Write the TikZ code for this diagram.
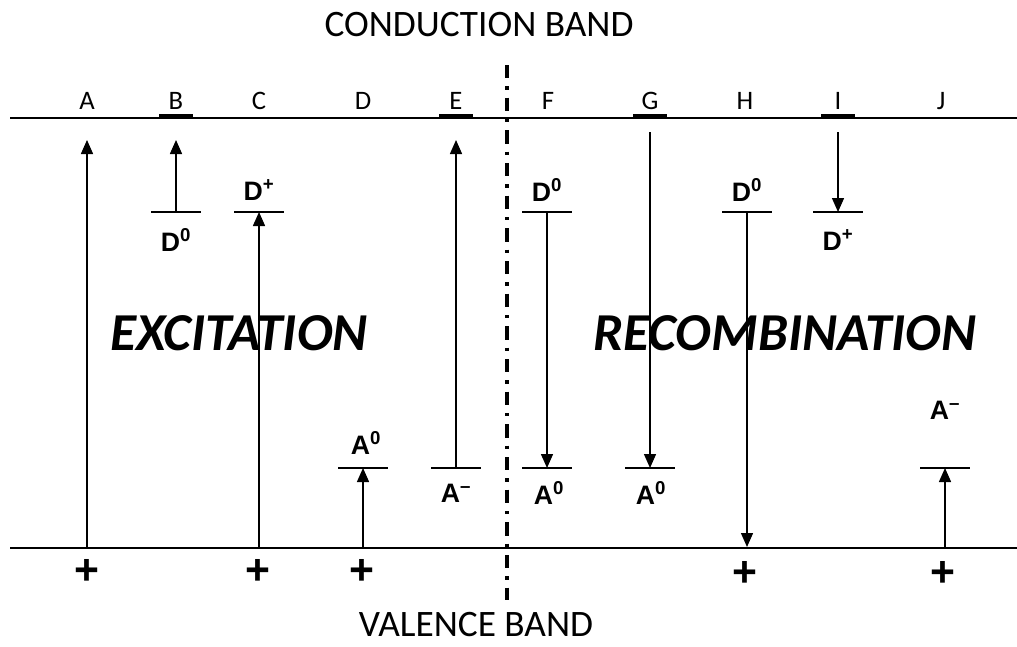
\documentclass[tikz,border=0pt]{standalone}
\usepackage{fontspec}
\setmainfont{Carlito}
\newfontfamily\lblfont{Liberation Sans}
\usetikzlibrary{arrows.meta}

\begin{document}
\begin{tikzpicture}[
  x=0.75pt, y=-0.75pt,
  band/.style={line width=1.4pt},
  lvl/.style={line width=1.1pt},
  cbbar/.style={line width=2.6pt},
  arrow/.style={line width=1.1pt, -{Triangle[length=10.5pt, width=9pt]}},
  divider/.style={line width=2.4pt, dash pattern=on 10pt off 6pt on 2.5pt off 6pt},
  col/.style={font=\fontsize{20}{22}\selectfont},
  state/.style={font=\lblfont\bfseries\fontsize{20}{22}\selectfont},
  hole/.style={font=\lblfont\bfseries\fontsize{32}{34}\selectfont},
  bandname/.style={font=\fontsize{28}{30}\selectfont},
  process/.style={font=\bfseries\itshape\fontsize{40}{44}\selectfont},
]
\useasboundingbox (0,0) rectangle (1017,646);

% Bands
\coordinate (cbL) at (10,118);  \coordinate (cbR) at (1017,118);
\coordinate (vbL) at (10,548);  \coordinate (vbR) at (1017,548);
\draw[band] (cbL) -- (cbR);
\draw[band] (vbL) -- (vbR);
\node[bandname] (cbname) at (479,25) {CONDUCTION BAND};
\node[bandname] (vbname) at (476,625) {VALENCE BAND};

% Divider
\coordinate (divT) at (507,65);
\coordinate (divB) at (507,600);
\draw[divider] (divT) -- (divB);

% Column letters
\foreach \n/\x in {A/87, B/176, C/259, D/363, E/456, F/548, G/650, H/745, I/838, J/941}
  \node[col] (lbl\n) at (\x,101) {\n};

% Short bars on the conduction band
\foreach \x in {176, 456, 650, 838}
  \draw[cbbar] (\x,116) +(-17,0) -- +(17,0);

% Donor / acceptor levels
\coordinate (dB) at (176,212);
\coordinate (dC) at (259,212);
\coordinate (aD) at (363,468);
\coordinate (aE) at (456,468);
\coordinate (dF) at (547,212);
\coordinate (aF) at (547,468);
\coordinate (aG) at (650,468);
\coordinate (dH) at (747,212);
\coordinate (dI) at (838,212);
\coordinate (aJ) at (945,468);
\foreach \c in {dB, dC, aD, aE, dF, aF, aG, dH, dI, aJ}
  \draw[lvl] (\c) +(-25,0) -- +(25,0);

% Level labels
\node[state] (sB) at (176,240) {D\textsuperscript{0}};
\node[state] (sC) at (259,190) {D\textsuperscript{+}};
\node[state] (sD) at (366,443) {A\textsuperscript{0}};
\node[state] (sE) at (456,493) {A\textsuperscript{–}};
\node[state] (sF1) at (547,190) {D\textsuperscript{0}};
\node[state] (sF2) at (549,493) {A\textsuperscript{0}};
\node[state] (sG) at (651,493) {A\textsuperscript{0}};
\node[state] (sH) at (747,190) {D\textsuperscript{0}};
\node[state] (sI) at (838,240) {D\textsuperscript{+}};
\node[state] (sJ) at (945,410) {A\textsuperscript{–}};

% End points on the bands
\coordinate (cbA) at (87,140);
\coordinate (cbB) at (176,140);
\coordinate (cbE) at (456,140);
\coordinate (cbG) at (650,132);
\coordinate (cbI) at (838,132);
\coordinate (vbA) at (87,548);
\coordinate (vbC) at (259,548);
\coordinate (vbD) at (363,548);
\coordinate (vbH) at (747,547);
\coordinate (vbJ) at (945,548);

% Transitions
\draw[arrow] (vbA) -- (cbA);
\draw[arrow] (dB) -- (cbB);
\draw[arrow] (vbC) -- (dC);
\draw[arrow] (vbD) -- (aD);
\draw[arrow] (aE) -- (cbE);
\draw[arrow] (dF) -- (aF);
\draw[arrow] (cbG) -- (aG);
\draw[arrow] (dH) -- (vbH);
\draw[arrow] (cbI) -- (dI);
\draw[arrow] (vbJ) -- (aJ);

% Holes
\foreach \n/\x/\y in {A/87/572, C/258/572, D/362/572, H/745/574, J/943/574}
  \node[hole] (h\n) at (\x,\y) {+};

% Processes
\node[process] (exc) at (239,333) {EXCITATION};
\node[process] (rec) at (785,333) {RECOMBINATION};
\end{tikzpicture}
\end{document}
